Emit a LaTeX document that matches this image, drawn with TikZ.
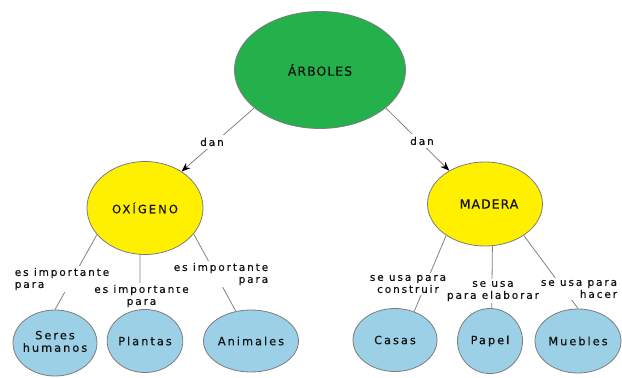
\documentclass[tikz,border=0pt]{standalone}
\usepackage{fontspec}
\setmainfont{DejaVu Sans}
\newfontfamily\cfont[LetterSpace=8,FakeBold=0.6]{DejaVu Sans}
\newfontfamily\oxfont[LetterSpace=18,FakeBold=0.6]{DejaVu Sans}
\newfontfamily\lfont[LetterSpace=18,FakeBold=0.5]{DejaVu Sans}
\newfontfamily\leaffont[LetterSpace=18,FakeBold=0.6]{DejaVu Sans}
\usetikzlibrary{shapes.geometric,arrows.meta}
\definecolor{arbgreen}{RGB}{36,176,74}
\definecolor{oxyellow}{RGB}{255,240,0}
\definecolor{leafblue}{RGB}{155,208,230}
\definecolor{bordergray}{RGB}{125,125,125}
\definecolor{linegray}{RGB}{130,130,130}
\definecolor{textdark}{RGB}{20,20,20}
\begin{document}
\begin{tikzpicture}[x=1pt,y=1pt,
 concept/.style={ellipse, draw=bordergray, line width=0.8pt, inner sep=0pt, text=textdark},
 topc/.style={concept, fill=arbgreen, font=\cfont\fontsize{12.5}{14}\selectfont},
 midc/.style={concept, fill=oxyellow, font=\cfont\fontsize{12.5}{14}\selectfont},
 leafc/.style={concept, fill=leafblue, font=\leaffont\fontsize{11.3}{12.5}\selectfont},
 link/.style={fill=white, inner sep=1.5pt, font=\lfont\fontsize{10.5}{12}\selectfont, text=textdark},
 conn/.style={draw=linegray, line width=0.8pt},
 arr/.style={conn, -{Stealth[length=9pt,width=7pt,color=black]}}
]
\useasboundingbox (0,0) rectangle (622,-378);
\node[topc, minimum width=171pt, minimum height=117pt] (arb) at (320,-70) {ÁRBOLES};
\node[midc, minimum width=116pt, minimum height=93pt, font=\oxfont\fontsize{11.5}{13}\selectfont] (oxi) at (145,-208) {OXÍGENO};
\node[midc, minimum width=115pt, minimum height=84pt] (mad) at (485,-204) {\hspace*{8pt}MADERA};
\node[leafc, minimum width=84pt, minimum height=66pt] (ser) at (55,-343) {\makebox[0pt]{\begin{tabular}{@{}c@{}}Seres\\humanos\end{tabular}}};
\node[leafc, minimum width=75pt, minimum height=63pt] (pla) at (145,-341) {Plantas};
\node[leafc, minimum width=95pt, minimum height=62pt] (ani) at (251,-341) {Animales};
\node[leafc, minimum width=84pt, minimum height=63pt] (cas) at (395,-340) {Casas};
\node[leafc, minimum width=65pt, minimum height=65pt] (pap) at (490,-341) {Papel};
\node[leafc, minimum width=86pt, minimum height=64pt] (mue) at (578,-341) {Muebles};

\draw[arr] (arb.210) -- (oxi.45);
\draw[arr] (arb.330) -- (mad.137);
\draw[conn] (oxi.209) -- (ser.north);
\draw[conn] (oxi.264) -- (pla.99);
\draw[conn] (oxi.332) -- (ani.117);
\draw[conn] (mad.219) -- (cas.56);
\draw[conn] (mad.280) -- (pap.87);
\draw[conn] (mad.321) -- (mue.north);

\node[link, inner sep=3pt] (d1) at (212,-142) {dan};
\node[link, inner sep=3pt] (d2) at (422,-141) {dan};
\node[link, align=left] (l1) at (62,-279) {es importante\\para};
\node[link, align=center] (l2) at (141.5,-296) {es importante\\para};
\node[link, align=right] (l3) at (221,-274) {es importante\\para};
\node[link, align=center] (l4) at (408,-284) {se usa para\\construir};
\node[link, align=center] (l5) at (493,-291) {se usa\\para elaborar};
\node[link, align=right] (l6) at (579,-289) {se usa para\\hacer};
\end{tikzpicture}
\end{document}
